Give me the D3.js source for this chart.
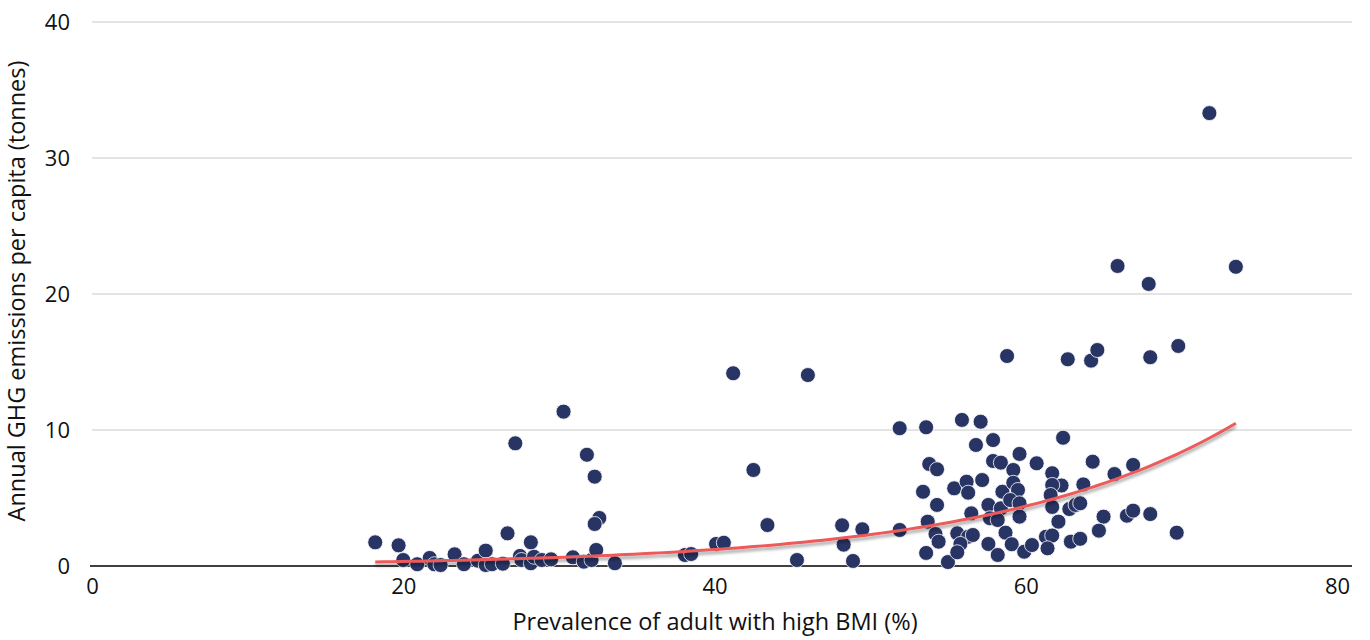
<!DOCTYPE html>
<html>
<head>
<meta charset="utf-8">
<script src="https://cdn.jsdelivr.net/npm/d3@7"></script>
<style>
  html, body { margin: 0; padding: 0; background: #ffffff; }
  svg { display: block; font-family: "Open Sans", "Noto Sans", sans-serif; }
</style>
</head>
<body>
<svg id="chart" width="1370" height="640"></svg>
<script>
// Prevalence of adults with high BMI (%)
const bmi = [
  18.2, 19.7, 20.0, 20.9, 21.7, 22.0, 22.4, 23.3, 23.9, 24.8, 25.3, 25.3, 25.7, 26.4, 26.7, 27.5, 27.6,
  28.2, 28.4, 28.2, 28.9, 29.5, 27.2, 30.3, 30.9, 31.6, 31.8, 32.1, 32.3, 32.6, 32.3, 32.4, 33.6,
  38.1, 38.5, 40.1, 40.6, 41.2, 46.0, 42.5, 43.4, 45.3, 48.2, 48.3, 48.9, 49.5,
  51.9, 53.6, 51.9, 53.4, 53.8, 54.3, 53.7, 54.3, 54.2, 54.4, 53.6, 55.0,
  55.9, 57.1, 56.8, 57.9, 62.4, 57.9, 58.4, 59.6, 60.7, 59.2, 61.7, 64.3,
  55.4, 56.2, 56.3, 57.2, 58.5, 59.2, 59.5, 62.3, 61.7, 61.6, 63.7, 65.7, 66.9,
  57.6, 56.5, 58.4, 59.0, 59.6, 59.6, 57.7, 58.2, 61.7, 62.8, 63.2, 63.5, 62.1,
  65.0, 66.5, 66.9, 68.0, 64.7, 69.7,
  55.6, 56.3, 56.6, 55.8, 55.6, 57.6, 58.2, 58.7, 59.1, 59.9, 60.4, 61.3, 61.7, 61.4, 62.9, 63.5,
  65.9, 67.9, 73.5, 58.8, 62.7, 64.2, 64.6, 68.0, 69.8, 71.8
];
// Annual GHG emissions per capita (tonnes)
const ghg = [
  1.74, 1.52, 0.44, 0.13, 0.59, 0.13, 0.07, 0.86, 0.13, 0.39, 1.13, 0.07, 0.13, 0.17, 2.40, 0.74, 0.44,
  0.20, 0.68, 1.74, 0.44, 0.49, 9.02, 11.35, 0.64, 0.32, 8.18, 0.44, 6.57, 3.53, 3.09, 1.18, 0.20,
  0.81, 0.88, 1.62, 1.71, 14.17, 14.04, 7.06, 3.01, 0.44, 2.99, 1.57, 0.37, 2.70,
  10.13, 10.20, 2.65, 5.46, 7.50, 7.11, 3.26, 4.49, 2.35, 1.79, 0.96, 0.29,
  10.74, 10.61, 8.90, 9.26, 9.43, 7.72, 7.60, 8.24, 7.55, 7.06, 6.82, 7.67,
  5.71, 6.20, 5.39, 6.32, 5.46, 6.12, 5.59, 5.92, 5.96, 5.22, 6.00, 6.76, 7.43,
  4.49, 3.87, 4.24, 4.85, 4.61, 3.63, 3.51, 3.38, 4.34, 4.19, 4.49, 4.61, 3.26,
  3.63, 3.70, 4.07, 3.82, 2.60, 2.45,
  2.40, 2.15, 2.28, 1.62, 1.01, 1.62, 0.81, 2.45, 1.60, 1.05, 1.54, 2.15, 2.24, 1.30, 1.79, 2.00,
  22.06, 20.74, 22.00, 15.44, 15.20, 15.10, 15.88, 15.35, 16.18, 33.30
];
const xTicks = [0, 20, 40, 60, 80];
const yTicks = [0, 10, 20, 30, 40];
const xTitle = "Prevalence of adult with high BMI (%)";
const yTitle = "Annual GHG emissions per capita (tonnes)";
// Exponential trendline y = A * exp(B * x)
const trendA = 0.0923;
const trendB = 0.0644;

const points = bmi.map((v, i) => ({x: v, y: ghg[i]}));

const svg = d3.select("#chart");
const mLeft = 92, mRight = 1337, mTop = 22, mBottom = 566;
const x = d3.scaleLinear().domain([0, 80]).range([mLeft, mRight]);
const y = d3.scaleLinear().domain([0, 40]).range([mBottom, mTop]);
const FONT = "'Open Sans', 'Noto Sans', sans-serif";

// shadow filter for trendline
const defs = svg.append("defs");
const f = defs.append("filter").attr("id", "shadow").attr("x", "-5%").attr("y", "-50%").attr("width", "110%").attr("height", "200%");
f.append("feDropShadow").attr("dx", 0).attr("dy", 3).attr("stdDeviation", 1.6)
  .attr("flood-color", "#000").attr("flood-opacity", 0.35);

// gridlines
svg.append("g").selectAll("line")
  .data(yTicks.filter(d => d !== 0))
  .join("line")
  .attr("x1", mLeft).attr("x2", 1352)
  .attr("y1", d => y(d)).attr("y2", d => y(d))
  .attr("stroke", "#c9c9c9").attr("stroke-width", 1);

// y axis labels
const yAxis = d3.axisLeft(y).tickValues(yTicks).tickSize(0).tickPadding(22);
const gy = svg.append("g").attr("transform", `translate(${mLeft},0)`).call(yAxis);
gy.select(".domain").remove();
gy.selectAll("text").attr("font-size", 22).attr("fill", "#111").style("font-family", FONT);

// x axis
const xAxis = d3.axisBottom(x).tickValues(xTicks).tickSize(0).tickPadding(12);
const gx = svg.append("g").attr("transform", `translate(0,${mBottom})`).call(xAxis);
gx.select(".domain").remove();
gx.selectAll("text").attr("font-size", 22).attr("fill", "#111").style("font-family", FONT);

// baseline
svg.append("line").attr("x1", mLeft - 2).attr("x2", 1352)
  .attr("y1", y(0)).attr("y2", y(0)).attr("stroke", "#000").attr("stroke-width", 1.5);

// points
svg.append("g").selectAll("circle")
  .data(points)
  .join("circle")
  .attr("cx", d => x(d.x)).attr("cy", d => y(d.y))
  .attr("r", 7.5)
  .attr("fill", "#283463")
  .attr("stroke", "#ffffff").attr("stroke-width", 0.8);

// trendline
const xmin = d3.min(bmi), xmax = d3.max(bmi);
const trend = d3.range(0, 101).map(i => {
  const xv = xmin + (xmax - xmin) * i / 100;
  return {x: xv, y: trendA * Math.exp(trendB * xv)};
});
svg.append("path")
  .datum(trend)
  .attr("d", d3.line().x(d => x(d.x)).y(d => y(d.y)))
  .attr("fill", "none")
  .attr("stroke", "#ec5a5a")
  .attr("stroke-width", 3)
  .attr("filter", "url(#shadow)");

// titles
svg.append("text")
  .attr("x", 715).attr("y", 630)
  .attr("text-anchor", "middle").attr("font-size", 23.5).attr("fill", "#111")
  .style("font-family", FONT)
  .text(xTitle);
svg.append("text")
  .attr("transform", `translate(25,291) rotate(-90)`)
  .attr("text-anchor", "middle").attr("font-size", 23.5).attr("fill", "#111")
  .style("font-family", FONT)
  .text(yTitle);
</script>
</body>
</html>
